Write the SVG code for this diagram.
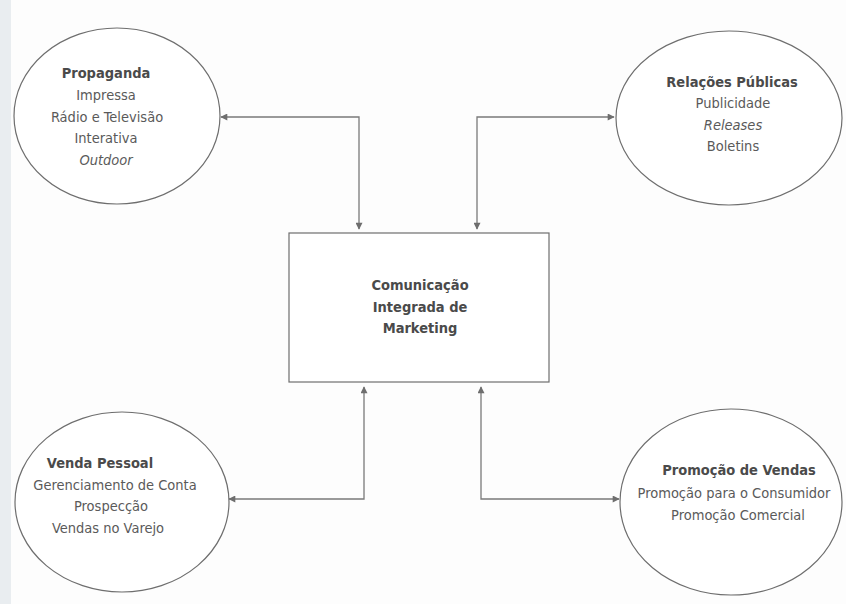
<svg xmlns="http://www.w3.org/2000/svg" width="846" height="604" viewBox="0 0 846 604">
<style>
.shape{fill:#fff;stroke:#6e6e6e;stroke-width:1.2}
.conn{fill:none;stroke:#7a7a7a;stroke-width:1.3}
text{font-family:"Liberation Sans Narrow","DejaVu Sans Condensed","Liberation Sans",sans-serif;font-size:14.5px;fill:#5a5a5a;text-anchor:middle}
.t{font-weight:bold;fill:#4a4a4a}
.i{font-style:italic}
</style>
<defs>
<marker id="ah" viewBox="0 0 10 10" refX="9" refY="5" markerWidth="8" markerHeight="7" markerUnits="userSpaceOnUse" orient="auto-start-reverse">
<path d="M0,0 L10,5 L0,10 z" fill="#6e6e6e"/>
</marker>
</defs>
<rect x="0" y="0" width="846" height="604" fill="#fdfdfd"/>
<rect x="0" y="0" width="11" height="604" fill="#e9edf0"/>
<g id="connectors">
<path class="conn" d="M221,117 H359 V229" marker-start="url(#ah)" marker-end="url(#ah)"/>
<path class="conn" d="M614,117 H477 V229" marker-start="url(#ah)" marker-end="url(#ah)"/>
<path class="conn" d="M229,499 H364 V387" marker-start="url(#ah)" marker-end="url(#ah)"/>
<path class="conn" d="M619,499 H481 V387" marker-start="url(#ah)" marker-end="url(#ah)"/>
</g>
<g id="propaganda">
<ellipse class="shape" cx="117" cy="116" rx="103" ry="88"/>
<text class="t" x="106" y="78">Propaganda</text>
<text x="106" y="100">Impressa</text>
<text x="107" y="122">Rádio e Televisão</text>
<text x="106" y="143">Interativa</text>
<text class="i" x="106" y="165">Outdoor</text>
</g>
<g id="relacoes">
<ellipse class="shape" cx="729" cy="118" rx="113" ry="87"/>
<text class="t" x="732" y="87">Relações Públicas</text>
<text x="733" y="108">Publicidade</text>
<text class="i" x="733" y="130">Releases</text>
<text x="733" y="151">Boletins</text>
</g>
<g id="cim">
<rect class="shape" x="289" y="233" width="260" height="149"/>
<text class="t" x="420" y="290">Comunicação</text>
<text class="t" x="420" y="312">Integrada de</text>
<text class="t" x="420" y="333">Marketing</text>
</g>
<g id="venda">
<ellipse class="shape" cx="122" cy="502" rx="107" ry="90"/>
<text class="t" x="100" y="468">Venda Pessoal</text>
<text x="115" y="490">Gerenciamento de Conta</text>
<text x="111" y="511">Prospecção</text>
<text x="108" y="533">Vendas no Varejo</text>
</g>
<g id="promocao">
<ellipse class="shape" cx="731" cy="502" rx="111" ry="93"/>
<text class="t" x="739" y="475">Promoção de Vendas</text>
<text x="734" y="498">Promoção para o Consumidor</text>
<text x="738" y="520">Promoção Comercial</text>
</g>
</svg>
